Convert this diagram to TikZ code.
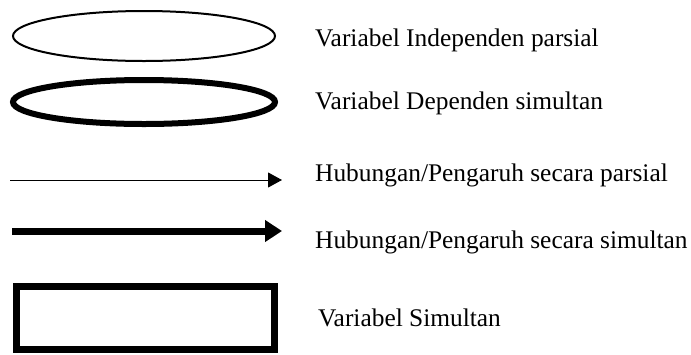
\documentclass[tikz,border=0pt]{standalone}
\usepackage{fontspec}
\setmainfont{Liberation Serif}
\usetikzlibrary{shapes.geometric,arrows.meta}
\begin{document}
\begin{tikzpicture}[x=1pt,y=-1pt,
  lbl/.style={anchor=base west,inner sep=0pt,font=\fontsize{25.4pt}{30pt}\selectfont},
  ellthin/.style={ellipse,draw,line width=2pt,minimum width=262pt,minimum height=50pt,inner sep=0pt},
  ellthick/.style={ellipse,draw,line width=6pt,minimum width=262pt,minimum height=44pt,inner sep=0pt},
  boxthick/.style={rectangle,draw,line width=7pt,minimum width=258pt,minimum height=63pt,inner sep=0pt},
  arrthin/.style={line width=1pt,-{Triangle[length=14pt,width=15pt]}},
  arrthick/.style={line width=7pt,-{Triangle[length=17pt,width=21pt]}}
]
\useasboundingbox (0,0) rectangle (691,354);
\node[ellthin] (e1) at (144,36) {};
\node[ellthick] (e2) at (144,102) {};
\coordinate (a1s) at (10,180);
\coordinate (a1e) at (282,180);
\draw[arrthin] (a1s) -- (a1e);
\coordinate (a2s) at (12,231);
\coordinate (a2e) at (282,231);
\draw[arrthick] (a2s) -- (a2e);
\node[boxthick] (r1) at (145.5,318) {};
\node[lbl] (t1) at (315,46.7) {Variabel Independen parsial};
\node[lbl] (t2) at (315,109) {Variabel Dependen simultan};
\node[lbl] (t3) at (315,181.7) {Hubungan/Pengaruh secara parsial};
\node[lbl] (t4) at (315,248.3) {Hubungan/Pengaruh secara simultan};
\node[lbl] (t5) at (318,326.7) {Variabel Simultan};
\end{tikzpicture}
\end{document}
